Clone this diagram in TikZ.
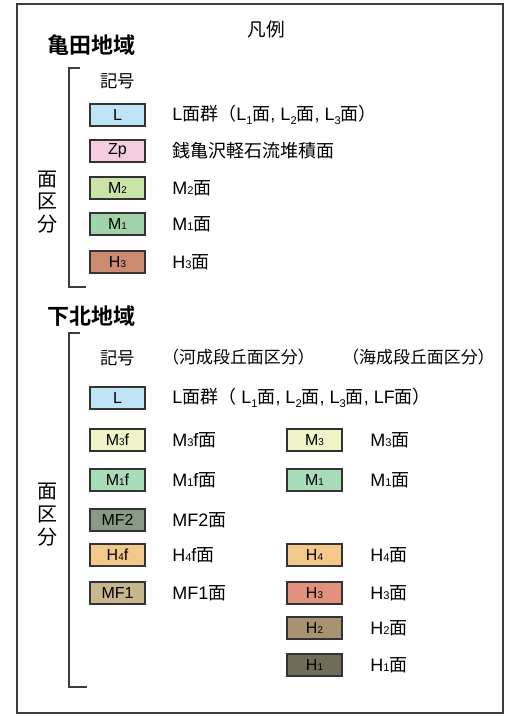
\documentclass[tikz,border=0pt]{standalone}
\usepackage{fontspec}
\usepackage{graphicx}
\setmainfont{Liberation Sans}
\newfontfamily\jp[BoldFont={Noto Sans CJK JP Bold}]{Noto Sans CJK JP}
\newcommand{\lo}[1]{\raisebox{-0.35ex}{\scalebox{0.62}{#1}}}
\newcommand{\sm}[1]{\scalebox{0.62}{#1}}
\newcommand{\J}[1]{{\jp #1}}
\definecolor{cL}{RGB}{190,226,246}
\definecolor{cZp}{RGB}{246,204,224}
\definecolor{cMtwo}{RGB}{202,228,168}
\definecolor{cMone}{RGB}{160,212,168}
\definecolor{cHthreeK}{RGB}{204,140,112}
\definecolor{cMthree}{RGB}{238,243,200}
\definecolor{cMonef}{RGB}{168,220,184}
\definecolor{cMFtwo}{RGB}{138,154,134}
\definecolor{cHfour}{RGB}{242,201,138}
\definecolor{cMFone}{RGB}{200,182,142}
\definecolor{cHthree}{RGB}{226,146,124}
\definecolor{cHtwo}{RGB}{168,146,112}
\definecolor{cHone}{RGB}{112,108,86}
\definecolor{frame}{RGB}{60,60,60}
\tikzset{
  sw/.style={draw=black!80, line width=0.9pt, minimum width=41.25pt, minimum height=16.5pt, inner sep=0pt, font=\fontsize{12}{12}\selectfont},
  lab/.style={anchor=west, inner sep=0pt, font=\fontsize{13.5}{14}\selectfont},
  hdr/.style={anchor=west, inner sep=0pt, font=\fontsize{12.7}{13}\selectfont\jp},
  region/.style={anchor=west, inner sep=0pt, font=\fontsize{16.5}{17}\selectfont\jp\bfseries},
  vert/.style={inner sep=0pt, font=\fontsize{15}{15}\selectfont\jp},
  brk/.style={draw=frame, line width=1pt},
}
\begin{document}
\begin{tikzpicture}[x=0.75pt,y=-0.75pt]
\useasboundingbox (0,0) rectangle (506,716);
\fill[white] (0,0) rectangle (506,716);
\draw[frame, line width=1pt] (17,4) rectangle (503,713);
\node[inner sep=0pt, font=\fontsize{14}{14}\selectfont\jp] (title) at (266,29) {凡例};
% Kameda
\node[region] (kameda) at (47,45) {亀田地域};
\coordinate (k1) at (80,68);
\coordinate (k2) at (86,287);
\draw[brk] (k1) -| (69,287) -- (k2);
\node[hdr, font=\fontsize{13}{13}\selectfont\jp] (kkigo) at (100,81) {記号};
\node[vert] (kv1) at (47,180) {面};
\node[vert] (kv2) at (47,202) {区};
\node[vert] (kv3) at (47,224) {分};
\node[sw, fill=cL] (kL) at (117.5,115) {L};
\node[sw, fill=cZp] (kZp) at (117.5,151) {Zp};
\node[sw, fill=cMtwo] (kM2) at (117.5,188) {M\sm{2}};
\node[sw, fill=cMone] (kM1) at (117.5,224) {M\sm{1}};
\node[sw, fill=cHthreeK] (kH3) at (117.5,262) {H\sm{3}};
\node[lab] (kLl) at (172,115) {L\J{面群（}L\lo{1}\J{面}, L\lo{2}\J{面}, L\lo{3}\J{面}\J{）}};
\node[lab] (kZpl) at (172,151) {\J{銭亀沢軽石流堆積面}};
\node[lab] (kM2l) at (172,188) {M\sm{2}\J{面}};
\node[lab] (kM1l) at (172,224) {M\sm{1}\J{面}};
\node[lab] (kH3l) at (172,262) {H\sm{3}\J{面}};
% Shimokita
\node[region] (shimo) at (47,316) {下北地域};
\coordinate (s1) at (80,333);
\coordinate (s2) at (87,687);
\draw[brk] (s1) -| (69,687) -- (s2);
\node[hdr, font=\fontsize{13}{13}\selectfont\jp] (skigo) at (100,358) {記号};
\node[hdr] (skasen) at (162,357) {（河成段丘面区分）};
\node[hdr] (skaisei) at (342,357) {（海成段丘面区分）};
\node[vert] (sv1) at (47,492) {面};
\node[vert] (sv2) at (47,515) {区};
\node[vert] (sv3) at (47,537) {分};
\node[sw, fill=cL] (sL) at (117.5,398) {L};
\node[sw, fill=cMthree] (sM3f) at (117.5,440) {M\sm{3}f};
\node[sw, fill=cMonef] (sM1f) at (117.5,480) {M\sm{1}f};
\node[sw, fill=cMFtwo] (sMF2) at (117.5,520) {MF2};
\node[sw, fill=cHfour] (sH4f) at (117.5,555) {H\sm{4}f};
\node[sw, fill=cMFone] (sMF1) at (117.5,593) {MF1};
\node[sw, fill=cMthree] (sM3) at (314.5,440) {M\sm{3}};
\node[sw, fill=cMonef] (sM1) at (314.5,480) {M\sm{1}};
\node[sw, fill=cHfour] (sH4) at (314.5,555) {H\sm{4}};
\node[sw, fill=cHthree] (sH3) at (314.5,593) {H\sm{3}};
\node[sw, fill=cHtwo] (sH2) at (314.5,628) {H\sm{2}};
\node[sw, fill=cHone] (sH1) at (314.5,665) {H\sm{1}};
\node[lab] (sLl) at (172,398) {L\J{面群（} L\lo{1}\J{面}, L\lo{2}\J{面}, L\lo{3}\J{面}, LF\J{面）}};
\node[lab] (sM3fl) at (172,440) {M\sm{3}f\J{面}};
\node[lab] (sM1fl) at (172,480) {M\sm{1}f\J{面}};
\node[lab] (sMF2l) at (172,520) {MF2\J{面}};
\node[lab] (sH4fl) at (172,555) {H\sm{4}f\J{面}};
\node[lab] (sMF1l) at (172,593) {MF1\J{面}};
\node[lab] (sM3l) at (370,440) {M\sm{3}\J{面}};
\node[lab] (sM1l) at (370,480) {M\sm{1}\J{面}};
\node[lab] (sH4l) at (370,555) {H\sm{4}\J{面}};
\node[lab] (sH3l) at (370,593) {H\sm{3}\J{面}};
\node[lab] (sH2l) at (370,628) {H\sm{2}\J{面}};
\node[lab] (sH1l) at (370,665) {H\sm{1}\J{面}};
\end{tikzpicture}
\end{document}
